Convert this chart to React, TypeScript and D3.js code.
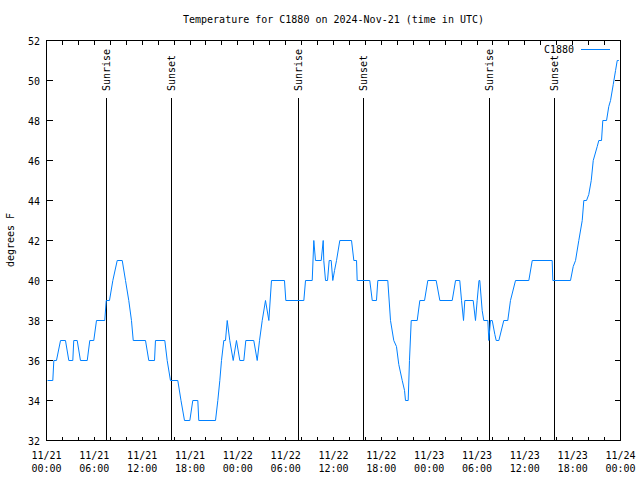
import React from "react";
import * as d3 from "d3";

// ---- data (hours after 2024-11-21 00:00 UTC, temperature °F) ----
const hours: number[] = [
  0.13, 0.79, 0.92, 1.25, 1.76, 2.38, 2.8, 3.3, 3.42, 3.85, 4.26, 5.11, 5.43, 5.93, 6.27, 7.31, 7.49, 7.9,
  8.32, 8.87, 9.5, 9.91, 10.32, 10.66, 10.88, 12.42, 12.83, 13.55, 13.67, 14.84, 15.14, 15.55, 16.47, 16.87,
  17.31, 17.98, 18.35, 18.98, 19.1, 21.2, 21.49, 21.74, 21.95, 22.24, 22.45, 22.67, 22.99, 23.42, 23.83,
  24.25, 24.75, 25.0, 26.0, 26.43, 26.72, 27.06, 27.47, 27.89, 28.22, 29.85, 30.02, 32.28, 32.49, 33.33,
  33.53, 33.74, 34.46, 34.71, 34.78, 35.0, 35.25, 35.46, 35.71, 35.91, 36.13, 36.38, 36.79, 38.26, 38.55,
  38.89, 38.97, 40.55, 40.86, 41.39, 41.56, 42.81, 43.15, 43.56, 43.9, 44.19, 44.62, 44.91, 45.03, 45.37,
  45.53, 45.75, 46.5, 46.83, 47.42, 47.83, 48.88, 49.34, 50.89, 51.31, 51.84, 52.06, 52.31, 52.47, 53.52,
  53.81, 54.02, 54.25, 54.35, 54.65, 54.85, 55.36, 55.48, 55.69, 55.91, 56.24, 56.41, 56.74, 57.36, 57.86,
  58.2, 58.83, 60.5, 60.93, 63.43, 63.51, 65.73, 66.07, 66.36, 66.77, 67.2, 67.4, 67.74, 68.02, 68.33,
  68.58, 69.08, 69.28, 69.62, 69.78, 70.25, 70.53, 70.75, 71.09, 71.38, 71.59, 71.79,
];
const temps: number[] = [
  35, 35, 36, 36, 37, 37, 36, 36, 37, 37, 36, 36, 37, 37, 38, 38, 39, 39,
  40, 41, 41, 40, 39, 38, 37, 37, 36, 36, 37, 37, 36, 35, 35, 34,
  33, 33, 34, 34, 33, 33, 34, 35, 36, 37, 37, 38, 37, 36, 37,
  36, 36, 37, 37, 36, 37, 38, 39, 38, 40, 40, 39, 39, 40, 40,
  42, 41, 41, 42, 41, 40, 40, 41, 41, 40, 40.5, 41, 42, 42, 41,
  41, 40, 40, 39, 39, 40, 40, 38, 37, 36.7, 35.8, 35, 34.5, 34, 34,
  36, 38, 38, 39, 39, 40, 40, 39, 39, 40, 40, 39, 38, 39, 39,
  38, 39, 40, 40, 38.5, 38, 38, 37, 38, 38, 37.3, 37, 37, 38, 38,
  39, 40, 40, 41, 41, 40, 40, 40.7, 41, 42, 43, 44, 44, 44.3, 45,
  46, 46.7, 47, 47, 48, 48, 48.7, 49, 49.8, 50.5, 51, 51,
];
const sunEventHours: number[] = [7.49, 15.6, 31.52, 39.7, 55.5, 63.6];
const sunEventLabels: string[] = ["Sunrise", "Sunset", "Sunrise", "Sunset", "Sunrise", "Sunset"];
const yTicks: number[] = [32, 34, 36, 38, 40, 42, 44, 46, 48, 50, 52];
const seriesName = "C1880";
const title = "Temperature for C1880 on 2024-Nov-21 (time in UTC)";
const yLabel = "degrees F";

const START = Date.UTC(2024, 10, 21, 0, 0);
const END = Date.UTC(2024, 10, 24, 0, 0);
const toDate = (h: number) => new Date(START + h * 3600e3);

const FONT = "'DejaVu Sans Mono', 'Liberation Mono', monospace";
const LINE = "#0080ff";

export default function App() {
  const L = 46.5, R = 620.5, T = 40.5, B = 440.5;
  const x = d3.scaleUtc().domain([new Date(START), new Date(END)]).range([L, R]);
  const y = d3.scaleLinear().domain([32, 52]).range([B, T]);
  const pts = hours.map((h, i) => [toDate(h), temps[i]] as [Date, number]);
  const line = d3.line<[Date, number]>().x((d) => x(d[0])).y((d) => y(d[1]));
  const minor = d3.utcHour.every(2)!.range(new Date(START), new Date(END + 1));
  const major = d3.utcHour.every(6)!.range(new Date(START), new Date(END + 1));
  const fDay = d3.utcFormat("%m/%d");
  const fTime = d3.utcFormat("%H:%M");

  return (
    <svg width={640} height={480} style={{ position: "absolute", left: 0, top: 0, background: "#fff" }} fontFamily={FONT}>
      <rect width={640} height={480} fill="#fff" />
      <text x={(L + R) / 2} y={23} fontSize={10} textAnchor="middle" fill="#000">{title}</text>
      {/* ticks */}
      <g stroke="#000" strokeWidth={1} shapeRendering="crispEdges">
        {minor.map((d, i) => (
          <g key={"mx" + i}>
            <line x1={x(d)} x2={x(d)} y1={B} y2={B - 4} />
            <line x1={x(d)} x2={x(d)} y1={T} y2={T + 4} />
          </g>
        ))}
        {yTicks.map((v) => (
          <g key={"y" + v}>
            <line x1={L} x2={L + 6} y1={y(v)} y2={y(v)} />
            <line x1={R} x2={R - 6} y1={y(v)} y2={y(v)} />
          </g>
        ))}
      </g>
      {yTicks.map((v) => (
        <text key={"yl" + v} x={40} y={y(v) + 4} fontSize={10} textAnchor="end" fill="#000">{v}</text>
      ))}
      {major.map((d, i) => (
        <text key={"xl" + i} x={x(d)} fontSize={10} textAnchor="middle" fill="#000">
          <tspan x={x(d)} y={459}>{fDay(d)}</tspan>
          <tspan x={x(d)} y={472}>{fTime(d)}</tspan>
        </text>
      ))}
      <text transform={`translate(14,240) rotate(-90)`} fontSize={10} textAnchor="middle" fill="#000">{yLabel}</text>
      {/* sunrise/sunset */}
      {sunEventHours.map((h, i) => {
        const xp = Math.round(x(toDate(h))) + 0.5;
        return (
          <g key={"s" + i}>
            <line x1={xp} x2={xp} y1={98} y2={B} stroke="#000" strokeWidth={1} shapeRendering="crispEdges" />
            <text transform={`translate(${xp + 3.5},91) rotate(-90)`} fontSize={10} textAnchor="start" fill="#000">
              {sunEventLabels[i]}
            </text>
          </g>
        );
      })}
      <path d={line(pts) || ""} fill="none" stroke={LINE} strokeWidth={1} />
      {/* border */}
      <rect x={L} y={T} width={R - L} height={B - T} fill="none" stroke="#000" strokeWidth={1} shapeRendering="crispEdges" />
      {/* legend */}
      <text x={574} y={53} fontSize={10} textAnchor="end" fill="#000">{seriesName}</text>
      <line x1={581} x2={610} y1={49.5} y2={49.5} stroke={LINE} strokeWidth={1} />
    </svg>
  );
}
